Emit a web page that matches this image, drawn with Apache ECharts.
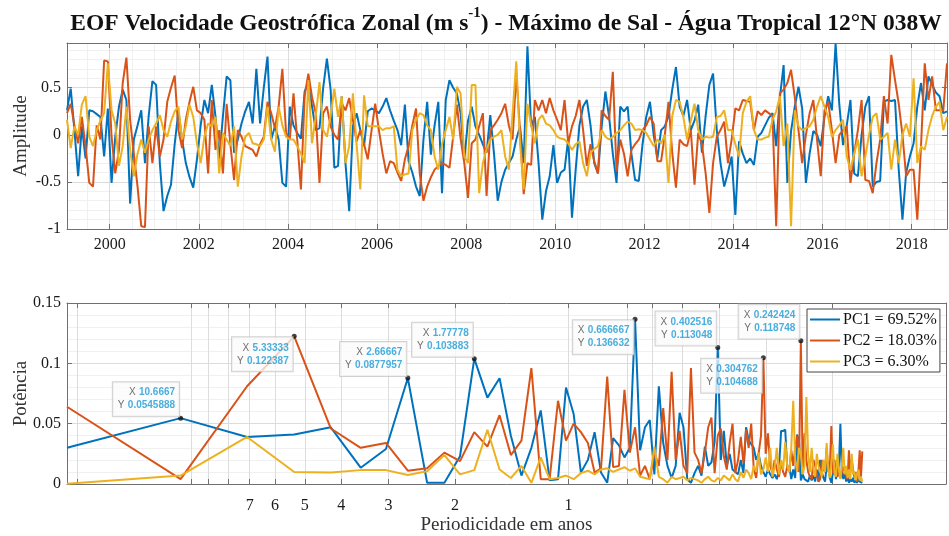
<!DOCTYPE html>
<html>
<head>
<meta charset="utf-8">
<script src="https://cdn.jsdelivr.net/npm/echarts@6.0.0/dist/echarts.min.js"></script>
<style>
  html, body { margin: 0; padding: 0; background: #fff; }
  #chart { width: 949px; height: 536px; }
</style>
</head>
<body>
<div id="chart"></div>
<script>
// ---------------- data ----------------
const startYear = 1999;            // first monthly sample (Jan 1999)
const nfft = 256;                  // FFT length in months
const yearTicks = [2000, 2002, 2004, 2006, 2008, 2010, 2012, 2014, 2016, 2018];
const ampTicks = [-1, -0.5, 0, 0.5];
const powTicks = [0, 0.05, 0.1, 0.15];
const periodTicks = [20, 10, 9, 8, 7, 6, 5, 4, 3, 2, 1, 0.7, 0.6, 0.5, 0.4, 0.3, 0.2];
const periodLabels = [7, 6, 5, 4, 3, 2, 1];
const pcNames = ['PC1 = 69.52%', 'PC2 = 18.03%', 'PC3 = 6.30%'];
const pcColors = ['#0072BD', '#D95319', '#EDB120'];

// principal component amplitudes, monthly
const pc1Amp = [
  0.26, 0.49, 0.05, -0.44, 0.09, -0.25, 0.26, 0.25, 0.22, 0.19, -0.23, 0.28,
  -0.51, -0.02, 0.30, 0.48, 0.37, -0.73, -0.05, 0.10, 0.26, -0.30, 0.20, 0.57,
  0.53, -0.30, -0.81, -0.65, -0.53, -0.10, 0.25, -0.05, -0.30, -0.45, -0.56, -0.26,
  0.10, 0.37, 0.23, 0.53, 0.19, -0.26, 0.20, 0.62, 0.58, -0.19, -0.05, 0.12,
  0.25, 0.35, 0.12, 0.70, 0.12, 0.50, 0.83, -0.05, 0.09, -0.05, -0.51, -0.55,
  0.30, 0.10, 0.02, -0.04, 0.46, 0.56, 0.30, 0.05, 0.07, 0.50, 0.81, 0.48,
  -0.35, -0.33, 0.41, -0.30, -0.81, 0.09, 0.23, 0.05, -0.12, 0.25, 0.28, 0.26,
  0.23, 0.30, 0.39, 0.26, 0.15, 0.05, -0.11, 0.32, -0.28, -0.40, -0.55, -0.65,
  -0.05, 0.35, -0.21, 0.10, 0.35, -0.62, 0.37, 0.58, 0.50, 0.44, 0.23, -0.26,
  0.15, 0.30, 0.09, 0.00, -0.10, -0.19, 0.21, -0.20, -0.70, -0.50, -0.37, -0.30,
  -0.23, -0.05, 0.09, -0.30, 0.94, 0.09, 0.19, -0.30, -0.90, -0.60, -0.44, -0.11,
  -0.51, -0.40, -0.37, -0.04, -0.88, -0.37, 0.10, 0.30, 0.37, 0.10, -0.30, -0.41,
  0.09, 0.46, 0.19, -0.20, -0.51, 0.30, 0.25, 0.30, -0.20, -0.48, -0.49, -0.10,
  0.19, 0.35, 0.00, -0.25, 0.05, 0.09, 0.20, 0.48, 0.72, 0.30, 0.20, 0.37,
  0.05, 0.15, 0.32, -0.19, 0.20, 0.53, 0.65, 0.05, -0.30, -0.55, -0.40, -0.23,
  -0.85, -0.07, -0.20, -0.30, -0.25, -0.32, -0.02, 0.02, 0.10, 0.18, 0.23, -0.12,
  0.40, 0.74, -0.51, 0.04, 0.30, 0.51, 0.28, -0.51, -0.20, 0.04, 0.00, -0.12,
  0.19, 0.41, 0.26, 0.97, 0.32, -0.11, 0.10, 0.37, -0.41, -0.44, 0.00, 0.30,
  0.41, -0.55, -0.50, -0.49, 0.35, 0.37, 0.36, 0.37, -0.37, -0.90, -0.40, -0.23,
  -0.09, 0.30, 0.55, 0.26, 0.62, 0.53, 0.45, 0.41, 0.23, 0.25
];
const pc2Amp = [
  0.23, 0.33, 0.10, -0.09, 0.19, -0.12, -0.51, -0.55, 0.10, -0.05, 0.79, 0.78,
  -0.02, -0.41, -0.16, 0.55, 0.82, 0.16, -0.20, -0.55, -0.97, -0.98, 0.09, -0.30,
  0.09, -0.23, -0.05, 0.35, 0.50, 0.63, 0.05, -0.14, 0.16, 0.35, 0.51, 0.26,
  0.23, 0.16, -0.41, 0.37, -0.16, 0.05, -0.41, 0.33, -0.10, -0.48, 0.05, -0.02,
  -0.12, -0.14, -0.16, -0.23, -0.10, -0.02, 0.35, 0.23, 0.07, 0.30, 0.70, 0.02,
  -0.05, 0.44, -0.05, -0.58, 0.41, 0.65, 0.40, 0.23, -0.51, 0.23, 0.30, 0.09,
  0.00, -0.05, 0.33, 0.26, 0.39, 0.16, -0.07, 0.05, -0.10, -0.26, 0.04, 0.33,
  0.05, -0.20, -0.41, -0.28, -0.30, -0.40, -0.49, -0.26, -0.12, 0.10, 0.28, -0.41,
  -0.70, -0.55, -0.45, -0.37, -0.33, -0.30, -0.32, -0.35, -0.02, 0.32, -0.04, -0.30,
  -0.67, -0.09, -0.05, 0.09, 0.23, -0.65, 0.05, 0.10, 0.16, 0.23, 0.33, 0.10,
  -0.05, 0.65, 0.05, -0.63, -0.30, -0.32, 0.37, 0.26, 0.37, 0.23, 0.39, 0.26,
  0.16, 0.05, 0.37, -0.09, 0.09, 0.20, 0.37, 0.05, -0.33, -0.10, -0.28, -0.41,
  0.26, 0.20, 0.16, 0.67, -0.39, -0.05, -0.20, -0.44, -0.16, -0.10, -0.05, 0.05,
  0.10, 0.19, 0.12, -0.28, -0.28, 0.00, 0.35, -0.19, -0.56, -0.05, -0.10, -0.12,
  0.05, -0.53, 0.02, -0.10, -0.41, -0.83, -0.30, -0.02, 0.05, 0.14, -0.30, -0.05,
  0.28, 0.26, 0.37, 0.36, 0.35, 0.05, 0.25, 0.21, 0.26, 0.23, 0.20, -0.97,
  0.44, 0.48, 0.55, 0.69, 0.40, 0.05, -0.30, 0.00, 0.23, 0.37, -0.05, -0.44,
  0.26, 0.35, 0.05, -0.30, 0.00, 0.05, 0.09, -0.51, -0.20, 0.05, 0.37, -0.48,
  -0.49, -0.62, -0.30, -0.05, 0.41, 0.12, 0.85, 0.58, 0.33, 0.00, -0.44, -0.37,
  -0.37, -0.90, -0.12, 0.76, 0.37, 0.62, 0.26, 0.26, 0.26, 0.76
];
const pc3Amp = [
  0.16, -0.14, 0.09, 0.00, 0.32, 0.41, -0.02, -0.12, 0.05, 0.15, 0.23, 0.76,
  0.26, 0.12, -0.33, -0.12, 0.30, -0.16, -0.44, -0.20, -0.05, -0.19, -0.05, 0.05,
  0.12, 0.21, 0.05, -0.02, 0.14, 0.25, 0.30, -0.05, 0.09, 0.32, 0.19, -0.09,
  -0.30, -0.02, 0.12, 0.09, 0.19, -0.41, 0.02, -0.05, -0.12, 0.09, -0.55, -0.23,
  -0.02, 0.02, -0.09, -0.10, -0.12, -0.05, 0.30, -0.05, -0.18, 0.30, 0.10, -0.02,
  -0.05, -0.05, -0.12, -0.20, -0.30, 0.58, -0.09, 0.20, 0.56, 0.05, -0.02, 0.20,
  0.49, 0.19, 0.41, -0.30, -0.12, 0.44, -0.10, -0.58, 0.42, 0.09, 0.09, 0.09,
  0.09, 0.05, 0.07, 0.07, 0.09, -0.37, -0.44, -0.42, -0.41, 0.05, 0.16, 0.23,
  0.21, 0.10, 0.05, -0.23, -0.37, -0.10, 0.05, 0.19, -0.05, 0.51, 0.44, -0.23,
  -0.30, 0.53, 0.53, -0.62, -0.30, -0.15, -0.05, -0.02, 0.00, 0.05, -0.23, -0.37,
  0.23, 0.78, -0.09, -0.58, 0.33, 0.10, -0.09, 0.16, 0.21, 0.12, 0.10, 0.05,
  -0.02, -0.04, -0.05, -0.09, -0.16, -0.10, -0.07, -0.30, -0.44, -0.19, -0.15, -0.12,
  0.05, -0.02, -0.05, -0.02, 0.02, 0.05, 0.10, 0.14, 0.12, 0.05, 0.06, 0.05,
  0.02, -0.05, -0.12, -0.05, -0.09, 0.00, -0.51, 0.20, 0.37, 0.35, 0.19, -0.05,
  0.15, 0.33, 0.05, -0.05, -0.02, -0.03, -0.02, 0.19, 0.20, 0.26, 0.05, 0.05,
  -0.10, -0.23, 0.23, 0.35, 0.41, 0.05, -0.05, -0.05, -0.03, -0.02, 0.16, 0.25,
  0.41, -0.12, 0.12, -0.97, 0.26, 0.09, 0.05, 0.07, 0.09, 0.16, 0.30, 0.41,
  0.30, 0.19, -0.02, 0.05, 0.10, 0.16, -0.23, -0.37, -0.20, -0.05, -0.44, -0.23,
  0.00, 0.19, 0.23, -0.05, -0.02, 0.02, -0.37, -0.05, -0.30, 0.00, 0.12, -0.02,
  0.60, -0.30, -0.12, -0.16, 0.05, 0.20, 0.30, 0.35, 0.05, 0.19
];

// power spectra, one value per FFT harmonic k = 1..128
const pc1Pow = [
  0.030, 0.0545888, 0.039, 0.041, 0.047, 0.0135, 0.029, 0.0877957, 0.001, 0.001, 0.023, 0.103883, 0.0716, 0.0877, 0.040, 0.007,
  0.030, 0.061, 0.003, 0.004, 0.080, 0.058, 0.0095, 0.020, 0.043, 0.0095, 0.001, 0.038, 0.032, 0.022, 0.030, 0.136632,
  0.028, 0.047, 0.053, 0.008, 0.081, 0.034, 0.015, 0.005, 0.015, 0.059, 0.047, 0.004, 0.001, 0.009, 0.015, 0.007,
  0.031, 0.015, 0.018, 0.035, 0.113048, 0.020, 0.044, 0.015, 0.025, 0.012, 0.010, 0.008, 0.020, 0.009, 0.047, 0.036,
  0.033, 0.030, 0.020, 0.025, 0.015, 0.010, 0.006, 0.012, 0.008, 0.005, 0.008, 0.004, 0.012, 0.044, 0.044, 0.045,
  0.012, 0.015, 0.004, 0.012, 0.005, 0.041, 0.036, 0.003, 0.008, 0.004, 0.005, 0.002, 0.007, 0.003, 0.007, 0.002,
  0.012, 0.002, 0.020, 0.010, 0.005, 0.002, 0.015, 0.018, 0.005, 0.001, 0.009, 0.020, 0.004, 0.011, 0.015, 0.050,
  0.010, 0.004, 0.010, 0.002, 0.006, 0.001, 0.004, 0.002, 0.005, 0.001, 0.003, 0.001, 0.004, 0.002, 0.003, 0.001
];
const pc2Pow = [
  0.064, 0.004, 0.081, 0.122387, 0.046, 0.030, 0.034, 0.011, 0.013, 0.026, 0.019, 0.043, 0.031, 0.057, 0.024, 0.036,
  0.096, 0.004, 0.004, 0.069, 0.036, 0.050, 0.043, 0.034, 0.0095, 0.013, 0.089, 0.014, 0.015, 0.078, 0.026, 0.047,
  0.007, 0.015, 0.004, 0.026, 0.015, 0.063, 0.020, 0.093, 0.020, 0.044, 0.015, 0.009, 0.096, 0.026, 0.020, 0.009,
  0.026, 0.047, 0.055, 0.009, 0.040, 0.046, 0.023, 0.012, 0.034, 0.050, 0.009, 0.020, 0.039, 0.017, 0.045, 0.030,
  0.050, 0.013, 0.005, 0.025, 0.040, 0.104688, 0.025, 0.042, 0.015, 0.009, 0.020, 0.012, 0.006, 0.018, 0.010, 0.006,
  0.015, 0.010, 0.028, 0.015, 0.030, 0.040, 0.010, 0.118748, 0.009, 0.042, 0.020, 0.010, 0.006, 0.004, 0.020, 0.015,
  0.008, 0.002, 0.004, 0.020, 0.012, 0.010, 0.030, 0.010, 0.012, 0.048, 0.009, 0.010, 0.015, 0.006, 0.010, 0.005,
  0.010, 0.014, 0.010, 0.010, 0.004, 0.028, 0.010, 0.020, 0.012, 0.005, 0.010, 0.002, 0.010, 0.028, 0.006, 0.027
];
const pc3Pow = [
  0.0003, 0.007, 0.039, 0.010, 0.0095, 0.0115, 0.0115, 0.0075, 0.0105, 0.024, 0.008, 0.0115, 0.045, 0.012, 0.005, 0.015,
  0.001, 0.022, 0.004, 0.005, 0.007, 0.004, 0.009, 0.011, 0.008, 0.012, 0.013, 0.010, 0.012, 0.014, 0.011, 0.013,
  0.006, 0.005, 0.004, 0.031, 0.006, 0.004, 0.001, 0.006, 0.004, 0.005, 0.006, 0.003, 0.005, 0.004, 0.003, 0.001,
  0.004, 0.006, 0.003, 0.002, 0.005, 0.003, 0.007, 0.005, 0.003, 0.008, 0.004, 0.002, 0.010, 0.005, 0.012, 0.009,
  0.004, 0.015, 0.010, 0.026, 0.008, 0.012, 0.022, 0.010, 0.030, 0.006, 0.014, 0.030, 0.008, 0.020, 0.012, 0.035,
  0.015, 0.010, 0.030, 0.069, 0.020, 0.010, 0.030, 0.025, 0.008, 0.015, 0.072, 0.025, 0.010, 0.030, 0.012, 0.006,
  0.025, 0.015, 0.010, 0.006, 0.020, 0.010, 0.034, 0.012, 0.005, 0.018, 0.033, 0.010, 0.006, 0.025, 0.012, 0.004,
  0.015, 0.030, 0.008, 0.015, 0.005, 0.012, 0.004, 0.025, 0.008, 0.010, 0.003, 0.008, 0.012, 0.003, 0.006, 0.002
];

// data tips: which spectrum and which harmonic (1-based), and where the box sits
const tipSeries = [0, 1, 0, 0, 0, 0, 1, 1];
const tipHarmonic = [2, 4, 8, 12, 32, 53, 70, 88];
const tipSide = ['nw', 'sw', 'nw', 'nw', 'sw', 'nw', 'sw', 'nw'];

// ---------------- derived coordinates ----------------
const ampSeries = [pc1Amp, pc2Amp, pc3Amp];
const powSeries = [pc1Pow, pc2Pow, pc3Pow];
const months = pc1Amp.map((_, i) => startYear + (i + 0.5) / 12);
const periods = pc1Pow.map((_, i) => nfft / 12 / (i + 1));
const tMin = months[0], tMax = months[months.length - 1];
const pMin = 0.1, pMax = periods[0];

const halfYears = [];
for (let y = 1999.5; y < 2019; y += 0.5) halfYears.push(y);
const ampMinor = [];
for (let v = -9; v <= 9; v++) ampMinor.push(v / 10);
const powMinor = [];
for (let v = 1; v <= 14; v++) powMinor.push(v / 100);

// ---------------- styling ----------------
const serif = "'Liberation Serif', 'Times New Roman', serif";
const sans = "'Liberation Sans', Arial, sans-serif";
const axisColor = '#707070';
const gridMajor = '#dcdcdc';
const gridMinor = '#f0f0f0';
const labelColor = '#1a1a1a';
const plain = v => String(Math.round(v * 1000) / 1000);

function minorAxis(gridIndex, type, extra) {
  return Object.assign({
    gridIndex, type,
    axisLine: { show: false },
    axisLabel: { show: false },
    splitLine: { show: true, lineStyle: { color: gridMinor, width: 1 } },
    z: 0
  }, extra);
}
function mainAxis(gridIndex, type, extra) {
  return Object.assign({
    gridIndex, type,
    axisLine: { show: true, onZero: false, lineStyle: { color: axisColor, width: 1 } },
    splitLine: { show: true, lineStyle: { color: gridMajor, width: 1 } },
    nameMoveOverlap: false,
    z: 1
  }, extra);
}
function edgeAxis(gridIndex, type, extra) {
  return Object.assign({
    gridIndex, type,
    axisLine: { show: true, onZero: false, lineStyle: { color: axisColor, width: 1 } },
    axisLabel: { show: false },
    splitLine: { show: false },
    z: 2
  }, extra);
}
const tickStyle = (vals, len) => ({ show: true, inside: true, length: len, customValues: vals, lineStyle: { color: axisColor, width: 1 } });
const nameStyle = { fontFamily: serif, fontSize: 19, color: '#333' };

const xAxis = [
  // top panel: time
  minorAxis(0, 'value', { min: tMin, max: tMax, axisTick: { show: false, customValues: halfYears } }),
  mainAxis(0, 'value', {
    min: tMin, max: tMax, position: 'bottom',
    axisTick: tickStyle(yearTicks, 5),
    axisLabel: { customValues: yearTicks, fontFamily: serif, fontSize: 16, color: labelColor, margin: 8, formatter: plain }
  }),
  edgeAxis(0, 'value', { min: tMin, max: tMax, position: 'top', axisTick: tickStyle(yearTicks, 5) }),
  // bottom panel: period on a log scale, decreasing to the right
  mainAxis(1, 'log', {
    logBase: 10, min: pMin, max: pMax, inverse: true, position: 'bottom',
    axisTick: tickStyle(periodTicks, 5),
    axisLabel: { customValues: periodLabels, fontFamily: serif, fontSize: 16, color: labelColor, margin: 14, formatter: plain },
    name: 'Periodicidade em anos', nameLocation: 'middle', nameGap: 32, nameTextStyle: nameStyle
  }),
  edgeAxis(1, 'log', { logBase: 10, min: pMin, max: pMax, inverse: true, position: 'top', axisTick: tickStyle(periodTicks, 5) })
];

const yAxis = [
  minorAxis(0, 'value', { min: -1, max: 0.975, axisTick: { show: false, customValues: ampMinor } }),
  mainAxis(0, 'value', {
    min: -1, max: 0.975, position: 'left',
    axisTick: tickStyle(ampTicks, 5),
    axisLabel: { customValues: ampTicks, fontFamily: serif, fontSize: 16, color: labelColor, margin: 6, formatter: plain },
    name: 'Amplitude', nameLocation: 'middle', nameGap: 36, nameRotate: 90, nameTextStyle: nameStyle
  }),
  edgeAxis(0, 'value', { min: -1, max: 0.975, position: 'right', axisTick: tickStyle(ampTicks, 5) }),
  minorAxis(1, 'value', { min: 0, max: 0.15, axisTick: { show: false, customValues: powMinor } }),
  mainAxis(1, 'value', {
    min: 0, max: 0.15, position: 'left',
    axisTick: tickStyle(powTicks, 5),
    axisLabel: { customValues: powTicks, fontFamily: serif, fontSize: 16, color: labelColor, margin: 6, formatter: plain },
    name: 'Potência', nameLocation: 'middle', nameGap: 36, nameRotate: 90, nameTextStyle: nameStyle
  }),
  edgeAxis(1, 'value', { min: 0, max: 0.15, position: 'right', axisTick: tickStyle(powTicks, 5) })
];

const series = [];
ampSeries.forEach((vals, s) => {
  series.push({
    name: 'amp' + (s + 1), type: 'line', xAxisIndex: 1, yAxisIndex: 1,
    data: vals.map((v, i) => [months[i], v]),
    symbol: 'none', showSymbol: false, clip: true,
    lineStyle: { color: pcColors[s], width: 2 }, itemStyle: { color: pcColors[s] }, z: 3 + s
  });
});
powSeries.forEach((vals, s) => {
  series.push({
    name: pcNames[s], type: 'line', xAxisIndex: 3, yAxisIndex: 4,
    data: vals.map((v, i) => [periods[i], v]),
    symbol: 'none', showSymbol: false, clip: true,
    lineStyle: { color: pcColors[s], width: 2 }, itemStyle: { color: pcColors[s] }, z: 3 + s
  });
});

// data tips with the value read from the spectrum arrays
const fmt6 = v => String(Number(v.toPrecision(6)));
const tipOffsets = { nw: [1.0, 0.5], sw: [1.0, 3.5] };
series.push({
  name: 'tips', type: 'scatter', xAxisIndex: 3, yAxisIndex: 4, z: 10,
  symbol: 'circle', symbolSize: 5, itemStyle: { color: '#111' },
  data: tipHarmonic.map((k, j) => ({
    value: [periods[k - 1], powSeries[tipSeries[j]][k - 1]],
    label: {
      position: tipOffsets[tipSide[j]],
      align: 'right',
      verticalAlign: tipSide[j] === 'nw' ? 'bottom' : 'top'
    }
  })),
  label: {
    show: true,
    formatter: p => '{k|X} {v|' + fmt6(p.value[0]) + '}\n{k|Y} {v|' + fmt6(p.value[1]) + '}',
    backgroundColor: 'rgba(251,251,251,0.94)',
    borderColor: '#c6c6c6', borderWidth: 1, padding: [4, 4, 4, 5], lineHeight: 13,
    rich: {
      k: { fontFamily: sans, fontSize: 10, color: '#4a4a4a', lineHeight: 13 },
      v: { fontFamily: sans, fontSize: 10, fontWeight: 'bold', color: '#1c9ad6', lineHeight: 13 }
    }
  },
  emphasis: { disabled: true }
});

const option = {
  animation: false,
  backgroundColor: '#fff',
  grid: [
    { left: 67, right: 2, top: 43, height: 186 },
    { left: 67, right: 3, top: 303, height: 185 }
  ],
  xAxis, yAxis, series,
  legend: {
    data: pcNames.map(n => ({ name: n, icon: 'rect' })),
    orient: 'vertical', left: 807, top: 309,
    itemWidth: 30, itemHeight: 2, itemGap: 2, align: 'left',
    padding: [1, 3, 1, 3],
    backgroundColor: '#fff', borderColor: '#444', borderWidth: 1, borderRadius: 0,
    textStyle: { fontFamily: serif, fontSize: 16, color: '#111', lineHeight: 19, padding: [0, 0, 0, -2] },
    selectedMode: false, z: 20
  },
  graphic: [{
    type: 'text', x: 506, y: 6, z: 30,
    style: {
      text: '{t|EOF Velocidade Geostrófica Zonal (m s}{s|-1}{t|) - Máximo de Sal - Água Tropical 12°N 038W}',
      align: 'center', verticalAlign: 'top',
      rich: {
        t: { fontFamily: serif, fontSize: 23.5, fontWeight: 'bold', fill: '#111', lineHeight: 30, verticalAlign: 'bottom' },
        s: { fontFamily: serif, fontSize: 15, fontWeight: 'bold', fill: '#111', lineHeight: 30, verticalAlign: 'top' }
      }
    }
  }]
};

const chart = echarts.init(document.getElementById('chart'), null, { renderer: 'canvas' });
chart.setOption(option);
</script>
</body>
</html>
